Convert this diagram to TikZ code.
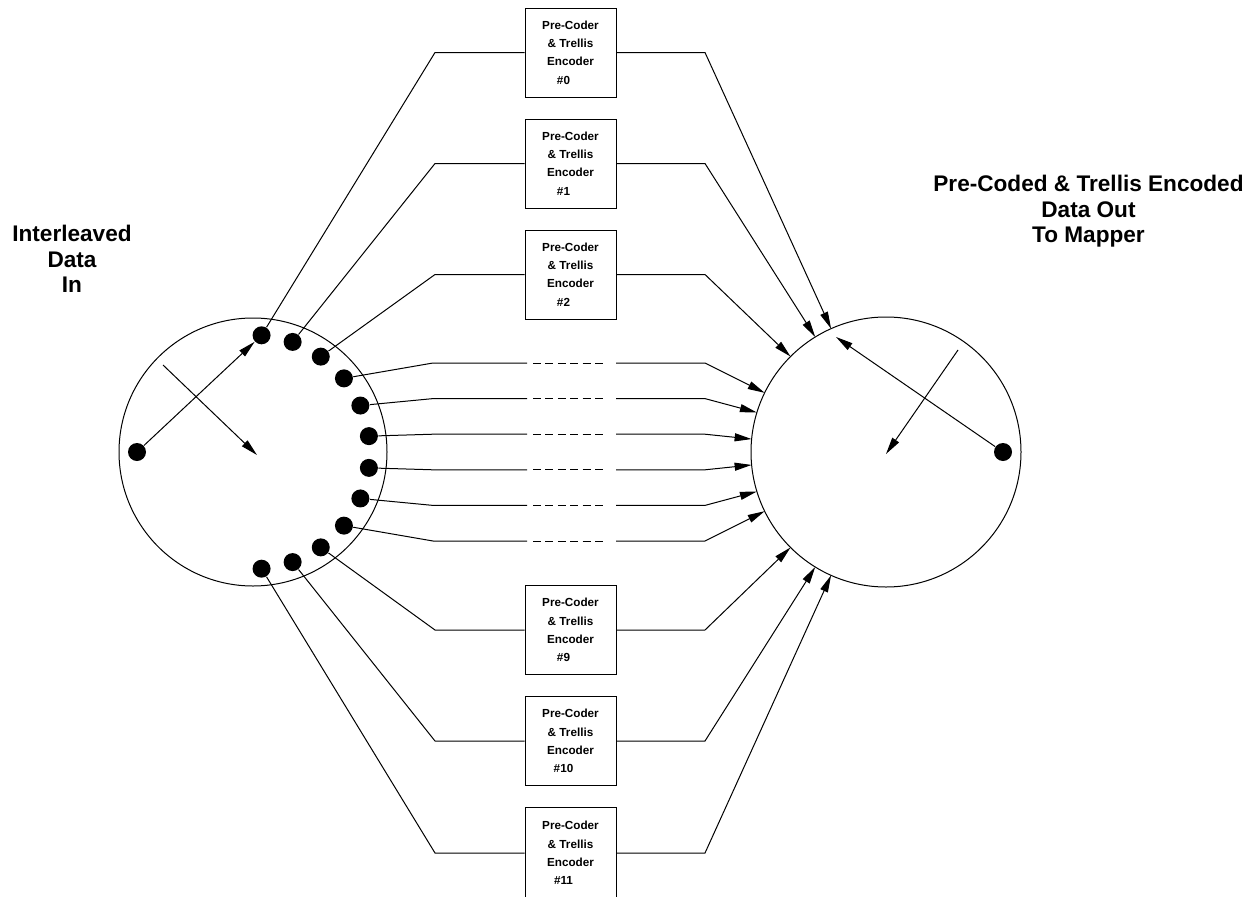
\documentclass[tikz,border=0pt]{standalone}
\usepackage{fontspec}
\setmainfont{Liberation Sans}
\usetikzlibrary{arrows.meta}
\begin{document}
\begin{tikzpicture}[x=1pt,y=-1pt,line width=1pt,
  arr/.style={-{Triangle[length=17pt,width=8pt]}},
  gapdash/.style={dash pattern=on 8pt off 4.4pt},
  dot/.style={circle,fill=black,draw=none,inner sep=0pt,minimum size=18pt},
  ring/.style={circle,draw,inner sep=0pt,minimum size=#1},
  enc/.style={draw,inner sep=0pt,minimum width=91pt,minimum height=89pt,align=center,
    font=\fontsize{11.7}{18.3}\selectfont\bfseries},
  lbl/.style={align=center,inner sep=0pt,font=\fontsize{22.6}{25.5}\selectfont\bfseries}]
\useasboundingbox (0,0) rectangle (1259,897);
\clip (0,0) rectangle (1259,897);

% circles
\coordinate (cL) at (253,452);
\coordinate (cR) at (886,452);
\node[ring=268pt] (L) at (cL) {};
\node[ring=270pt] (R) at (cR) {};

% dots on the input commutator
\node[dot] (d0) at ([shift={(180:116)}]cL) {};
\foreach \k in {1,...,12}
  \node[dot] (d\k) at ([shift={({-85.8+15.6*(\k-1)}:117)}]cL) {};
% output dot
\node[dot] (d13) at ([shift={(0:117)}]cR) {};

% arrow tips on output commutator
\foreach \i/\a in {0/-114,1/-121.6,2/-135,3/-154,4/-163,5/-174.5,6/174.5,7/163,8/154,9/135,10/121.6,11/114}
  \coordinate (t\i) at ([shift={(\a:135)}]cR);

% encoder boxes
\foreach \n/\y in {0/52.5,1/163.5,2/274.5,9/630,10/741}
  \node[enc] (b\n) at (570.5,\y) {Pre-Coder\\\& Trellis\\Encoder\\\mbox{\#\n\hspace{14pt}}};
\node[enc,minimum height=91pt] (b11) at (570.5,853) {Pre-Coder\\\& Trellis\\Encoder\\\mbox{\#11\hspace{14pt}}};

% box connections
\foreach \n/\d/\y in {0/1/52.5,1/2/163.5,2/3/274.5,9/10/630,10/11/741,11/12/853}{
  \coordinate (l\n) at (435,\y);
  \coordinate (r\n) at (705,\y);
  \draw (d\d) -- (l\n) -- (b\n);
  \draw[arr] (b\n) -- (r\n) -- (t\n);
}

% middle (dashed) rows
\foreach \j/\d/\t in {1/4/3,2/5/4,3/6/5,4/7/6,5/8/7,6/9/8}{
  \pgfmathsetmacro\yy{452+35.6*(\j-3.5)}
  \coordinate (ma\j) at (433,\yy);
  \coordinate (mb\j) at (527,\yy);
  \coordinate (mc\j) at (533,\yy);
  \coordinate (md\j) at (603,\yy);
  \coordinate (me\j) at (616,\yy);
  \coordinate (mf\j) at (705,\yy);
  \draw (d\d) -- (ma\j) -- (mb\j);
  \draw[gapdash] (mc\j) -- (md\j);
  \draw[arr] (me\j) -- (mf\j) -- (t\t);
}

% commutator arrows
\draw[arr] (d0) -- (d1);
\coordinate (ls) at (163,365);
\coordinate (le) at (257,455);
\draw[arr] (ls) -- (le);
\coordinate (rs) at (958,350);
\coordinate (re) at (886,454);
\draw[arr] (rs) -- (re);
\coordinate (oq) at (836,337);
\draw[arr] (d13) -- (oq);

% labels
\node[lbl] (inlbl) at (72,259) {Interleaved\\Data\\In};
\node[lbl] (outlbl) at (1088.5,211.5) {Pre-Coded \& Trellis Encoded\\Data Out\\To Mapper};
\end{tikzpicture}
\end{document}
